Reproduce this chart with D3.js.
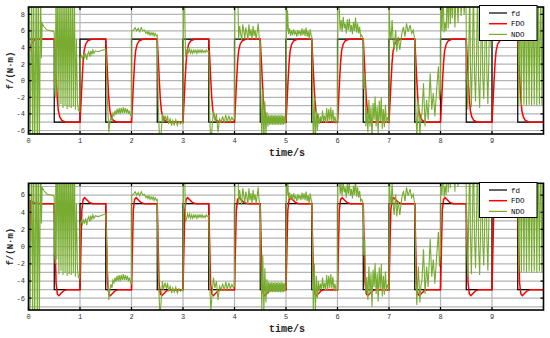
<!DOCTYPE html>
<html>
<head>
<meta charset="utf-8">
<script src="https://cdn.jsdelivr.net/npm/d3@7"></script>
<style>body{margin:0;background:#fff;}</style>
</head>
<body>
<div id="container"></div>
<script>
// reference signal fd: switching times and levels (step after)
const fdEdges  = [0,0.5,1,1.5,2,2.5,3,3.5,4,4.5,5,5.5,6,6.5,7,7.5,8,8.5,9,9.5,10];
const fdLevels = [5,-5,5,-5,5,-5,5,-5,5,-5,5,-5,5,-5,5,-5,5,-5,5,-5,-5];

// FDO estimate, top plot  [t, value]
const fdoTop = [
[0,0],[0.015,3.4],[0.04,4.2],[0.08,4.7],[0.13,4.95],[0.2,5],
[0.5,5],[0.52,2.6],[0.54,0],[0.56,-2.2],[0.58,-3.6],[0.61,-4.4],[0.65,-4.8],[0.72,-5],
[1.0,-5],[1.02,-2.6],[1.04,0],[1.06,2.2],[1.08,3.6],[1.11,4.4],[1.15,4.8],[1.22,5],
[1.5,5],[1.52,2.6],[1.54,0],[1.56,-2.2],[1.58,-3.6],[1.61,-4.4],[1.65,-4.8],[1.72,-5],
[2.0,-5],[2.02,-2.6],[2.04,0],[2.06,2.2],[2.08,3.6],[2.11,4.4],[2.15,4.8],[2.22,5],
[2.5,5],[2.52,2.6],[2.54,0],[2.56,-2.2],[2.58,-3.6],[2.61,-4.4],[2.65,-4.8],[2.72,-5],
[3.0,-5],[3.02,-2.6],[3.04,0],[3.06,2.2],[3.08,3.6],[3.11,4.4],[3.15,4.8],[3.22,5],
[3.5,5],[3.52,2.6],[3.54,0],[3.56,-2.2],[3.58,-3.6],[3.61,-4.4],[3.65,-4.8],[3.72,-5],
[4.0,-5],[4.02,-2.6],[4.04,0],[4.06,2.2],[4.08,3.6],[4.11,4.4],[4.15,4.8],[4.22,5],
[4.5,5],[4.52,2.6],[4.54,0],[4.56,-2.2],[4.58,-3.6],[4.61,-4.4],[4.65,-4.8],[4.72,-5],
[5.0,-5],[5.02,-2.6],[5.04,0],[5.06,2.2],[5.08,3.6],[5.11,4.4],[5.15,4.8],[5.22,5],
[5.5,5],[5.52,2.6],[5.54,0],[5.56,-2.2],[5.58,-3.6],[5.61,-4.4],[5.65,-4.8],[5.72,-5],
[6.0,-5],[6.02,-2.6],[6.04,0],[6.06,2.2],[6.08,3.6],[6.11,4.4],[6.15,4.8],[6.22,5],
[6.5,5],[6.52,2.6],[6.54,0],[6.56,-2.2],[6.58,-3.6],[6.61,-4.4],[6.65,-4.8],[6.72,-5],
[7.0,-5],[7.02,-2.6],[7.04,0],[7.06,2.2],[7.08,3.6],[7.11,4.4],[7.15,4.8],[7.22,5],
[7.5,5],[7.52,2.6],[7.54,0],[7.56,-2.2],[7.58,-3.6],[7.61,-4.4],[7.65,-4.8],[7.72,-5],
[8.0,-5],[8.02,-2.6],[8.04,0],[8.06,2.2],[8.08,3.6],[8.11,4.4],[8.15,4.8],[8.22,5],
[8.5,5],[8.52,2.6],[8.54,0],[8.56,-2.2],[8.58,-3.6],[8.61,-4.4],[8.65,-4.8],[8.72,-5],
[9.0,-5],[9.02,-2.6],[9.04,0],[9.06,2.2],[9.08,3.6],[9.11,4.4],[9.15,4.8],[9.22,5],
[9.5,5],[9.52,2.6],[9.54,0],[9.56,-2.2],[9.58,-3.6],[9.61,-4.4],[9.65,-4.8],[9.72,-5],
[10,-5]
];

// FDO estimate, bottom plot (with overshoot)
const fdoBottom = [
[0,0],[0.03,0],[0.035,5.35],[0.08,5.2],[0.15,5.05],[0.25,5],
[0.5,5],[0.515,1],[0.535,-4.2],[0.56,-5.5],[0.59,-5.7],[0.63,-5.45],[0.68,-5.15],[0.75,-5],
[1.0,-5],[1.015,-1],[1.035,4.2],[1.06,5.5],[1.09,5.7],[1.13,5.45],[1.18,5.15],[1.25,5],
[1.5,5],[1.515,1],[1.535,-4.2],[1.56,-5.5],[1.59,-5.7],[1.63,-5.45],[1.68,-5.15],[1.75,-5],
[2.0,-5],[2.015,-1],[2.035,4.2],[2.06,5.5],[2.09,5.7],[2.13,5.45],[2.18,5.15],[2.25,5],
[2.5,5],[2.515,1],[2.535,-4.2],[2.56,-5.5],[2.59,-5.7],[2.63,-5.45],[2.68,-5.15],[2.75,-5],
[3.0,-5],[3.015,-1],[3.035,4.2],[3.06,5.5],[3.09,5.7],[3.13,5.45],[3.18,5.15],[3.25,5],
[3.5,5],[3.515,1],[3.535,-4.2],[3.56,-5.5],[3.59,-5.7],[3.63,-5.45],[3.68,-5.15],[3.75,-5],
[4.0,-5],[4.015,-1],[4.035,4.2],[4.06,5.5],[4.09,5.7],[4.13,5.45],[4.18,5.15],[4.25,5],
[4.5,5],[4.515,1],[4.535,-4.2],[4.56,-5.5],[4.59,-5.7],[4.63,-5.45],[4.68,-5.15],[4.75,-5],
[5.0,-5],[5.015,-1],[5.035,4.2],[5.06,5.5],[5.09,5.7],[5.13,5.45],[5.18,5.15],[5.25,5],
[5.5,5],[5.515,1],[5.535,-4.2],[5.56,-5.5],[5.59,-5.7],[5.63,-5.45],[5.68,-5.15],[5.75,-5],
[6.0,-5],[6.015,-1],[6.035,4.2],[6.06,5.5],[6.09,5.7],[6.13,5.45],[6.18,5.15],[6.25,5],
[6.5,5],[6.515,1],[6.535,-4.2],[6.56,-5.5],[6.59,-5.7],[6.63,-5.45],[6.68,-5.15],[6.75,-5],
[7.0,-5],[7.015,-1],[7.035,4.2],[7.06,5.5],[7.09,5.7],[7.13,5.45],[7.18,5.15],[7.25,5],
[7.5,5],[7.515,1],[7.535,-4.2],[7.56,-5.5],[7.59,-5.7],[7.63,-5.45],[7.68,-5.15],[7.75,-5],
[8.0,-5],[8.015,-1],[8.035,4.2],[8.06,5.5],[8.09,5.7],[8.13,5.45],[8.18,5.15],[8.25,5],
[8.5,5],[8.515,1],[8.535,-4.2],[8.56,-5.5],[8.59,-5.7],[8.63,-5.45],[8.68,-5.15],[8.75,-5],
[9.0,-5],[9.015,-1],[9.035,4.2],[9.06,5.5],[9.09,5.7],[9.13,5.45],[9.18,5.15],[9.25,5],
[9.5,5],[9.515,1],[9.535,-4.2],[9.56,-5.5],[9.59,-5.7],[9.63,-5.45],[9.68,-5.15],[9.75,-5],
[10,-5]
];

// NDO estimate (same in both plots)
const ndo = [
[0,0],[0.01,12],[0.03,-9],[0.06,12],[0.08,-9],[0.1,12],[0.12,-9],[0.15,12],[0.17,-9],[0.19,12],[0.21,-9],[0.235,12],[0.25,2.7],[0.265,6.9],[0.3,6.5],[0.36,6.1],[0.45,6.0],[0.49,5.9],
[0.5,5.7],[0.505,-0.5],[0.52,-2],[0.535,12],[0.55,-1.5],[0.57,12],[0.59,-3.2],[0.61,12],[0.63,-2.8],[0.65,12],[0.67,-3.3],[0.69,12],[0.71,-3.0],[0.73,12],[0.75,-3.4],[0.77,12],[0.79,-3.2],[0.81,12],[0.83,-3.3],[0.85,12],[0.87,-3.1],[0.89,12],[0.91,-3.5],[0.93,5],[0.95,-2.5],[0.97,-3.6],[0.995,-3.7],
[1.005,2.7],[1.03,3.0],[1.05,2.6],[1.07,3.1],[1.09,2.8],[1.11,3.3],[1.13,2.5],[1.15,3.2],[1.17,3.5],[1.19,2.9],[1.21,3.6],[1.23,3.2],[1.25,3.7],[1.27,3.3],[1.3,3.6],[1.35,3.5],[1.4,3.6],[1.45,3.7],[1.5,3.8],
[1.53,-2],[1.56,-6.2],[1.58,-5.0],[1.6,-4.4],[1.62,-4.8],[1.64,-3.9],[1.66,-4.2],[1.68,-3.6],[1.7,-4.1],[1.72,-3.4],[1.74,-4.0],[1.76,-3.3],[1.78,-4.0],[1.8,-3.3],[1.82,-3.9],[1.84,-3.2],[1.86,-3.9],[1.88,-3.3],[1.9,-3.9],[1.92,-3.4],[1.94,-4.0],[1.96,-3.6],[1.98,-4.2],[2.0,-4.3],
[2.005,6.0],[2.04,6.1],[2.07,6.4],[2.1,6.0],[2.13,6.3],[2.16,5.9],[2.19,6.4],[2.22,6.0],[2.25,6.1],[2.28,5.7],[2.3,5.9],[2.32,5.6],[2.34,5.9],[2.36,5.5],[2.38,5.8],[2.4,5.5],[2.42,5.8],[2.44,5.4],[2.46,5.7],[2.48,5.4],[2.5,5.5],
[2.52,-3],[2.55,-8],[2.57,-6.8],[2.6,-4.0],[2.62,-5.0],[2.65,-4.2],[2.68,-4.9],[2.7,-4.2],[2.72,-5.2],[2.75,-4.6],[2.78,-5.4],[2.8,-4.8],[2.83,-5.3],[2.86,-4.7],[2.89,-5.4],[2.92,-4.9],[2.95,-5.2],[2.98,-5.0],[3.0,-5.1],
[3.01,12],[3.03,9.5],[3.05,2.9],[3.07,3.3],[3.09,3.8],[3.11,3.4],[3.13,3.8],[3.15,3.3],[3.17,3.7],[3.19,3.3],[3.21,3.7],[3.23,3.4],[3.25,3.7],[3.27,3.3],[3.29,3.7],[3.31,3.4],[3.33,3.7],[3.35,3.4],[3.37,3.7],[3.39,3.4],[3.41,3.6],[3.43,3.4],[3.45,3.7],[3.47,3.5],[3.5,3.6],
[3.52,-4.5],[3.54,-7.5],[3.56,-6.0],[3.59,-3.6],[3.62,-4.8],[3.65,-4.0],[3.68,-6.2],[3.71,-4.6],[3.74,-5.0],[3.77,-4.3],[3.8,-5.1],[3.83,-4.1],[3.86,-5.0],[3.89,-4.2],[3.92,-4.9],[3.95,-4.4],[3.98,-4.8],[4.0,-4.6],
[4.01,12],[4.04,10],[4.06,12],[4.08,5.0],[4.1,6.6],[4.12,5.6],[4.14,4.9],[4.16,6.8],[4.18,6.0],[4.2,5.1],[4.22,6.4],[4.24,5.8],[4.26,4.9],[4.28,6.8],[4.3,5.4],[4.32,6.2],[4.34,5.0],[4.36,6.6],[4.38,5.4],[4.4,6.1],[4.42,5.0],[4.44,5.9],[4.46,6.9],[4.48,5.2],[4.5,4.7],
[4.51,-0.8],[4.53,-7.5],[4.55,-1.0],[4.57,-7.5],[4.59,-2.5],[4.61,-6.5],[4.63,-3.8],[4.65,-5.5],[4.665,-4.1],[4.68,-5.3],[4.695,-4.2],[4.71,-5.3],[4.725,-4.1],[4.74,-5.3],[4.755,-4.2],[4.77,-5.3],[4.785,-4.1],[4.8,-5.3],[4.815,-4.2],[4.83,-5.3],[4.845,-4.1],[4.86,-5.3],[4.875,-4.2],[4.89,-5.3],[4.905,-4.1],[4.92,-5.3],[4.935,-4.2],[4.95,-5.3],[4.965,-4.2],[4.98,-5.2],[5.0,-4.5],
[5.01,10],[5.02,6.0],[5.03,8.5],[5.05,5.6],[5.07,6.3],[5.09,5.4],[5.11,6.1],[5.13,5.5],[5.15,6.2],[5.17,5.6],[5.19,5.9],[5.21,5.3],[5.23,6.1],[5.25,5.6],[5.27,6.0],[5.29,5.4],[5.31,6.3],[5.33,5.5],[5.35,6.2],[5.37,5.4],[5.39,6.4],[5.41,5.3],[5.43,6.0],[5.45,5.0],[5.47,6.2],[5.49,5.4],[5.5,5.3],
[5.51,1.5],[5.53,-7.5],[5.55,-2.0],[5.57,-7.5],[5.59,-3.4],[5.61,-6.0],[5.63,-4.0],[5.65,-5.2],[5.67,-4.3],[5.69,-5.0],[5.71,-3.6],[5.73,-4.9],[5.75,-4.2],[5.77,-5.1],[5.79,-3.3],[5.81,-5.0],[5.83,-3.4],[5.85,-4.8],[5.87,-3.2],[5.89,-4.9],[5.91,-3.5],[5.93,-5.0],[5.95,-4.3],[5.97,-5.1],[6.0,-4.9],
[6.01,12],[6.03,9.5],[6.05,6.1],[6.07,7.3],[6.09,5.9],[6.11,7.7],[6.13,6.3],[6.15,6.9],[6.17,5.7],[6.19,7.4],[6.21,6.1],[6.23,7.5],[6.25,5.9],[6.27,6.7],[6.29,5.6],[6.31,7.1],[6.33,6.0],[6.35,7.6],[6.37,5.8],[6.39,6.9],[6.41,5.7],[6.43,6.5],[6.45,5.3],[6.47,5.5],[6.5,5.0],
[6.51,-1.0],[6.53,0.8],[6.55,-5.5],[6.57,-3.5],[6.59,-6.2],[6.61,-2.3],[6.63,-5.5],[6.65,-3.1],[6.67,-7.0],[6.69,-2.7],[6.71,-4.7],[6.73,-1.9],[6.75,-5.5],[6.77,-3.1],[6.79,-6.4],[6.81,-2.4],[6.83,-4.9],[6.85,-2.0],[6.87,-5.8],[6.89,-3.4],[6.91,-5.6],[6.93,-2.9],[6.95,-5.1],[6.97,-4.4],[7.0,-5.0],
[7.005,8.5],[7.02,6.0],[7.04,4.9],[7.06,7.3],[7.08,5.0],[7.1,3.7],[7.13,6.1],[7.15,3.5],[7.18,5.3],[7.21,3.7],[7.25,5.7],[7.28,6.5],[7.31,5.3],[7.34,6.9],[7.37,5.9],[7.41,6.7],[7.44,5.7],[7.47,6.1],[7.5,4.9],
[7.52,-3],[7.54,-6.8],[7.57,-2.3],[7.6,-6.5],[7.62,-4.5],[7.64,-3.9],[7.67,-0.3],[7.7,-5.5],[7.73,-2.3],[7.76,-4.7],[7.8,0.9],[7.83,-3.5],[7.86,-1.5],[7.89,-4.3],[7.93,-0.7],[7.96,1.7],[7.98,-2.3],[8.0,-1.0],
[8.01,12],[8.03,6.0],[8.05,11],[8.07,5.8],[8.09,7.0],[8.11,6.0],[8.13,11],[8.15,6.3],[8.17,12],[8.19,6.8],[8.21,11],[8.23,7.5],[8.25,12],[8.28,6.4],[8.31,12],[8.34,7.0],[8.37,12],[8.4,7.8],[8.43,12],[8.46,8.0],[8.49,12],[8.5,6],
[8.51,0.5],[8.53,-3.5],[8.55,4],[8.57,12],[8.58,2],[8.6,-3.2],[8.62,3],[8.64,12],[8.66,1],[8.68,-2.5],[8.7,3],[8.72,12],[8.74,0],[8.76,-3.3],[8.78,2],[8.8,12],[8.82,0.5],[8.84,-2.2],[8.86,3],[8.88,12],[8.9,1],[8.92,-2.8],[8.94,3],[8.96,12],[8.98,4],[9.0,12],
[9.1,12],[9.2,11],[9.3,12],[9.4,11],[9.5,12],
[9.52,-3.0],[9.545,12],[9.57,-3.0],[9.595,12],[9.62,-2.9],[9.645,12],[9.67,-3.0],[9.695,12],[9.72,-2.9],[9.745,12],[9.77,-3.0],[9.795,12],[9.82,-2.9],[9.845,12],[9.87,-3.0],[9.895,12],[9.92,-2.9],[9.945,12],[9.97,-3.0],[9.995,12]
];

const xTicks = [0,1,2,3,4,5,6,7,8,9];
const yTicksTop = [-6,-4,-2,0,2,4,6,8];
const yTicksBottom = [-6,-4,-2,0,2,4,6];
const legendNames = ["fd","FDO","NDO"];
const colors = {fd:"#000000", FDO:"#ff0000", NDO:"#77ac30"};

let w = 550;
let h = 338;
let svg = d3.select("#container").append("svg")
    .attr("width", w)
    .attr("height", h);

function panel(id, top, bottom, yDomain, yTicks, fdo, legendTop){
  let x = d3.scaleLinear().domain([0,10]).range([28.5,543.5]);
  let y = d3.scaleLinear().domain(yDomain).range([bottom, top]);
  let g = svg.append("g");

  g.append("clipPath").attr("id", id)
    .append("rect")
    .attr("x", x(0)).attr("y", top)
    .attr("width", x(10)-x(0)).attr("height", bottom-top);

  // grid: every unit in y, every second in x
  let gy = d3.range(Math.ceil(yDomain[0]), Math.floor(yDomain[1])+1);
  g.selectAll(".gy").data(gy).enter().append("line")
    .attr("x1", x(0)).attr("x2", x(10))
    .attr("y1", d=>y(d)).attr("y2", d=>y(d))
    .attr("stroke", "#b4b4b4").attr("stroke-width", 1.2);
  g.selectAll(".gx").data(xTicks.slice(1)).enter().append("line")
    .attr("x1", d=>x(d)).attr("x2", d=>x(d))
    .attr("y1", top).attr("y2", bottom)
    .attr("stroke", "#b4b4b4").attr("stroke-width", 1.2);

  let line = d3.line().x(d=>x(d[0])).y(d=>y(d[1]));
  let plot = g.append("g").attr("clip-path", "url(#"+id+")");
  plot.append("path")
    .datum(fdEdges.map((t,i)=>[t, fdLevels[i]]))
    .attr("d", line.curve(d3.curveStepAfter))
    .attr("fill","none").attr("stroke", colors.fd).attr("stroke-width", 1.2);
  line.curve(d3.curveLinear);
  plot.append("path").datum(fdo).attr("d", line)
    .attr("fill","none").attr("stroke", colors.FDO).attr("stroke-width", 1.5);
  plot.append("path").datum(ndo).attr("d", line)
    .attr("fill","none").attr("stroke", colors.NDO).attr("stroke-width", 1.1);

  // frame + inward ticks
  g.append("rect")
    .attr("x", x(0)).attr("y", top)
    .attr("width", x(10)-x(0)).attr("height", bottom-top)
    .attr("fill","none").attr("stroke","#000").attr("stroke-width",1.6);
  g.selectAll(".tx").data(xTicks).enter().append("path")
    .attr("d", d=>"M"+x(d)+","+bottom+"v-3M"+x(d)+","+top+"v3")
    .attr("stroke","#000").attr("stroke-width",1.2);
  g.selectAll(".ty").data(yTicks).enter().append("path")
    .attr("d", d=>"M"+x(0)+","+y(d)+"h3M"+x(10)+","+y(d)+"h-3")
    .attr("stroke","#000").attr("stroke-width",1.2);

  g.selectAll(".lx").data(xTicks).enter().append("text")
    .text(d=>d)
    .attr("x", d=>x(d)).attr("y", bottom+9)
    .attr("text-anchor","middle")
    .attr("font-size",7).attr("font-family","Liberation Mono")
    .attr("fill","#333");
  g.selectAll(".ly").data(yTicks).enter().append("text")
    .text(d=>d)
    .attr("x", 25).attr("y", d=>y(d)+2.4)
    .attr("text-anchor","end")
    .attr("font-size",7).attr("font-family","Liberation Mono")
    .attr("fill","#333");

  g.append("text").text("time/s")
    .attr("x", 287).attr("y", bottom+22)
    .attr("text-anchor","middle")
    .attr("font-size",10).attr("font-weight","bold")
    .attr("font-family","Liberation Mono").attr("fill","#222");
  g.append("text").text("f/(N·m)")
    .attr("transform","translate(13,"+((top+bottom)/2)+") rotate(-90)")
    .attr("text-anchor","middle")
    .attr("font-size",9).attr("font-weight","bold")
    .attr("font-family","Liberation Mono").attr("fill","#222");

  // legend
  let lg = g.append("g");
  lg.append("rect")
    .attr("x", 479.5).attr("y", legendTop)
    .attr("width", 57.5).attr("height", 35)
    .attr("fill","#fff").attr("stroke","#000").attr("stroke-width",1);
  legendNames.forEach((n,i)=>{
    let ly = legendTop + 7.5 + i*10.7;
    lg.append("line")
      .attr("x1", 489).attr("x2", 507)
      .attr("y1", ly).attr("y2", ly)
      .attr("stroke", colors[n]).attr("stroke-width", n=="FDO"?1.5:1.2);
    lg.append("text").text(n)
      .attr("x", 511).attr("y", ly+2.5)
      .attr("font-size",7.5).attr("font-family","Liberation Mono")
      .attr("fill","#000");
  });
}

panel("clipTop", 7, 134, [-6.42, 8.88], yTicksTop, fdoTop, 5.5);
panel("clipBottom", 183.3, 310, [-7.37, 7.37], yTicksBottom, fdoBottom, 182.5);
</script>
</body>
</html>
